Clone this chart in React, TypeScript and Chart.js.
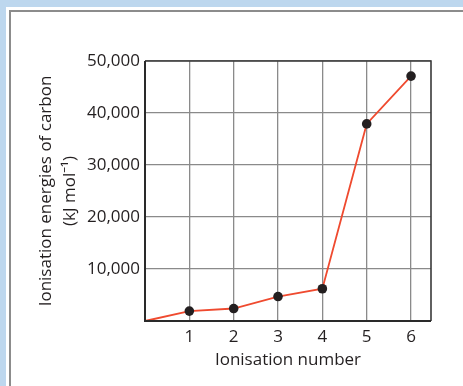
import React, { useEffect, useRef } from "react";
import { Chart, registerables } from "chart.js";

Chart.register(...registerables);

const ionisationNumbers = [0, 1, 2, 3, 4, 5, 6];
const ionisationEnergies = [0, 1900, 2400, 4700, 6200, 37900, 47100];
const markerRadii = [0, 4.8, 4.8, 4.8, 4.8, 4.8, 4.8];
const xTickValues = [1, 2, 3, 4, 5, 6];
const yTickValues = [10000, 20000, 30000, 40000, 50000];
const yTitleLines = ["Ionisation energies of carbon", "(kJ mol\u207B\u00B9)"];
const xTitle = "Ionisation number";

const FONT = "'Open Sans', 'Noto Sans', sans-serif";

const boxPlugin = {
  id: "plotBox",
  afterDatasetsDraw(chart: any) {
    const { ctx, chartArea } = chart;
    ctx.save();
    ctx.strokeStyle = "#3a3a3a";
    ctx.lineWidth = 1.6;
    ctx.beginPath();
    ctx.moveTo(chartArea.left, chartArea.top);
    ctx.lineTo(chartArea.right, chartArea.top);
    ctx.lineTo(chartArea.right, chartArea.bottom);
    ctx.stroke();
    ctx.strokeStyle = "#2a2a2a";
    ctx.lineWidth = 2;
    ctx.beginPath();
    ctx.moveTo(chartArea.left, chartArea.top);
    ctx.lineTo(chartArea.left, chartArea.bottom);
    ctx.lineTo(chartArea.right, chartArea.bottom);
    ctx.stroke();
    ctx.restore();
  },
};

export default function App() {
  const ref = useRef<HTMLCanvasElement>(null);

  useEffect(() => {
    if (!ref.current) return;
    const chart = new Chart(ref.current, {
      type: "line",
      data: {
        datasets: [
          {
            data: ionisationNumbers.map((x, i) => ({ x, y: ionisationEnergies[i] })),
            borderColor: "#ef4a2f",
            borderWidth: 1.8,
            pointRadius: markerRadii,
            pointBackgroundColor: "#231f20",
            pointBorderColor: "#231f20",
            pointBorderWidth: 0,
            tension: 0,
            clip: false as any,
          },
        ],
      },
      options: {
        animation: false,
        responsive: false,
        layout: { padding: { top: 61, right: 32, left: 0, bottom: 0 } },
        plugins: { legend: { display: false }, tooltip: { enabled: false } },
        scales: {
          x: {
            type: "linear",
            min: 0,
            max: 6.45,
            afterFit: (s: any) => {
              s.height = 65;
            },
            afterBuildTicks: (s: any) => {
              s.ticks = [0, ...xTickValues].map((v) => ({ value: v }));
            },
            ticks: {
              color: "#231f20",
              font: { family: FONT, size: 17 },
              padding: 6,
              maxRotation: 0,
              callback: (v: any) => (v === 0 ? "" : String(v)),
            },
            grid: { color: "#8a8a8a", lineWidth: 1.3, drawTicks: false },
            border: { display: false },
            title: {
              display: true,
              text: xTitle,
              color: "#231f20",
              font: { family: FONT, size: 17 },
              padding: { top: 0, bottom: 16 },
            },
          },
          y: {
            type: "linear",
            min: 0,
            max: 50000,
            afterFit: (s: any) => {
              s.width = 145;
            },
            afterBuildTicks: (s: any) => {
              s.ticks = [0, ...yTickValues].map((v) => ({ value: v }));
            },
            ticks: {
              color: "#231f20",
              font: { family: FONT, size: 17 },
              padding: 5,
              callback: (v: any) => (v === 0 ? "" : Number(v).toLocaleString("en-US")),
            },
            grid: { color: "#8a8a8a", lineWidth: 1.3, drawTicks: false },
            border: { display: false },
            title: {
              display: true,
              text: yTitleLines,
              color: "#231f20",
              font: { family: FONT, size: 17, lineHeight: 1.4 },
              padding: { top: 34, bottom: 0 },
            },
          },
        },
      },
      plugins: [boxPlugin],
    });
    return () => chart.destroy();
  }, []);

  return (
    <div
      style={{
        position: "fixed",
        left: 0,
        top: 0,
        width: 463,
        height: 386,
        background: "#bdd7ee",
        overflow: "hidden",
      }}
    >
      <div
        style={{
          position: "absolute",
          left: 6,
          top: 7,
          right: 0,
          bottom: 0,
          background: "#ffffff",
        }}
      />
      <div
        style={{
          position: "absolute",
          left: 9,
          top: 10,
          right: 0,
          bottom: 0,
          background: "#ffffff",
          borderLeft: "2px solid #8c8c8c",
          borderTop: "2px solid #8c8c8c",
        }}
      />
      <canvas
        ref={ref}
        width={463}
        height={386}
        style={{ position: "absolute", left: 0, top: 0, width: 463, height: 386 }}
      />
    </div>
  );
}
